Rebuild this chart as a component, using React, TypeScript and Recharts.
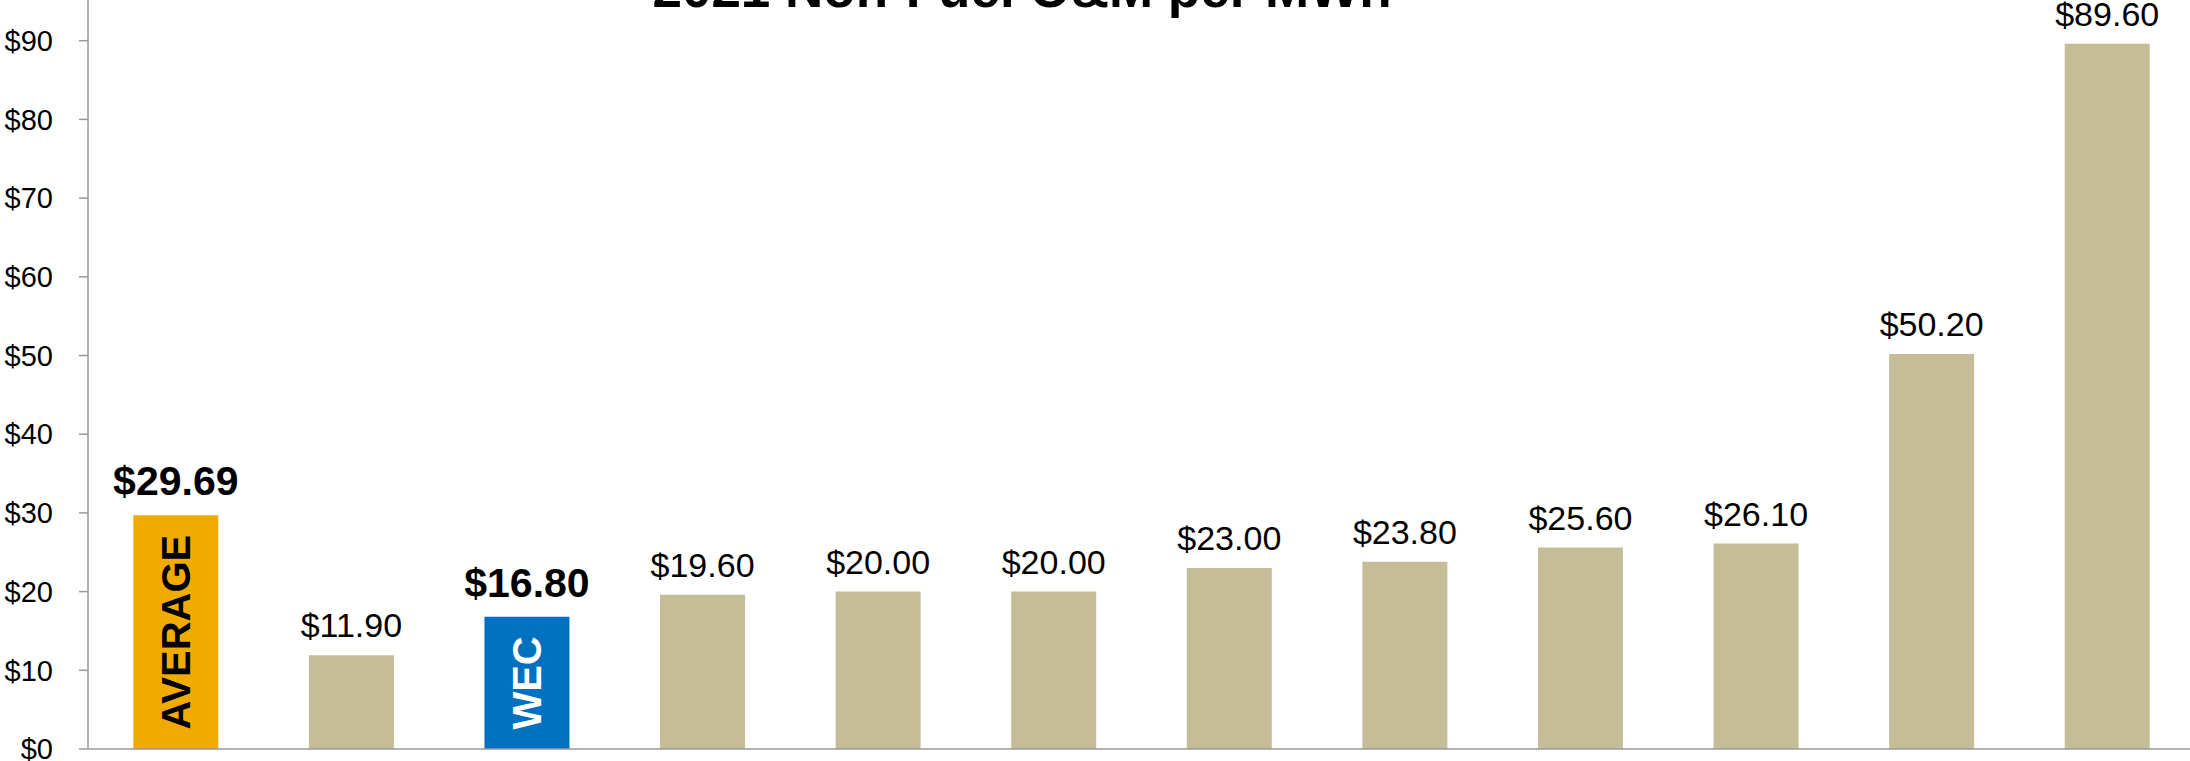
import React from 'react';
import { BarChart, Bar, XAxis, YAxis, Cell, LabelList } from 'recharts';

// ---------------------------------------------------------------------------
// Data
// ---------------------------------------------------------------------------

const categories = [
  'AVERAGE',
  'Peer A',
  'WEC',
  'Peer B',
  'Peer C',
  'Peer D',
  'Peer E',
  'Peer F',
  'Peer G',
  'Peer H',
  'Peer I',
  'Peer J',
];

const costPerMwh = [29.69, 11.9, 16.8, 19.6, 20.0, 20.0, 23.0, 23.8, 25.6, 26.1, 50.2, 89.6];

// 'avg' | 'wec' | 'peer'
const barKinds = ['avg', 'peer', 'wec', 'peer', 'peer', 'peer', 'peer', 'peer', 'peer', 'peer', 'peer', 'peer'];

const insideLabels = ['AVERAGE', '', 'WEC', '', '', '', '', '', '', '', '', ''];

const yTicks = [0, 10, 20, 30, 40, 50, 60, 70, 80, 90];

const title = '2021 Non-Fuel O&M per MWh';

// ---------------------------------------------------------------------------
// Styles
// ---------------------------------------------------------------------------

const FONT = '"Liberation Sans", Arial, Helvetica, sans-serif';
const KIND_COLOR: Record<string, string> = {
  avg: '#F0AB00',
  wec: '#0070C0',
  peer: '#C5BD98',
};
const AXIS_COLOR = '#999999';

const data = categories.map((name, i) => ({
  name,
  value: costPerMwh[i],
  kind: barKinds[i],
  inside: insideLabels[i],
}));

function formatDollar(v: number) {
  return `$${v.toFixed(2)}`;
}

function TopLabel(props: any) {
  const { x, y, width, index, value } = props;
  const kind = data[index]?.kind;
  const bold = kind === 'avg' || kind === 'wec';
  return (
    <text
      x={x + width / 2}
      y={y - (bold ? 20 : 18)}
      textAnchor="middle"
      fontFamily={FONT}
      fontSize={bold ? 41 : 34}
      fontWeight={bold ? 700 : 400}
      fill="#000"
    >
      {formatDollar(Number(value))}
    </text>
  );
}

function InsideLabel(props: any) {
  const { x, y, width, height, index } = props;
  const d = data[index];
  if (!d || !d.inside) return null;
  const cx = x + width / 2;
  const cy = y + height / 2;
  return (
    <text
      x={cx}
      y={cy}
      transform={`rotate(-90, ${cx}, ${cy})`}
      textAnchor="middle"
      dominantBaseline="central"
      fontFamily={FONT}
      fontSize={40}
      fontWeight={700}
      fill={d.kind === 'wec' ? '#fff' : '#000'}
    >
      {d.inside}
    </text>
  );
}

export default function App() {
  return (
    <div
      style={{
        position: 'absolute',
        top: 0,
        left: 0,
        width: 2190,
        height: 761,
        overflow: 'hidden',
        background: '#fff',
      }}
    >
      <div style={{ position: 'absolute', top: -100, left: 0 }}>
        <BarChart
          width={2200}
          height={900}
          data={data}
          margin={{ top: 62, right: 5, bottom: 50, left: 0 }}
          barCategoryGap="25.8%"
        >
          <XAxis
            dataKey="name"
            tick={false}
            tickLine={false}
            height={1}
            axisLine={{ stroke: AXIS_COLOR, strokeWidth: 1.5 }}
          />
          <YAxis
            domain={[0, 100]}
            ticks={yTicks}
            width={88}
            tickSize={9}
            tickMargin={26}
            tickFormatter={(v: number) => `$${v}`}
            tick={{ fontFamily: FONT, fontSize: 29, fill: '#000' }}
            tickLine={{ stroke: AXIS_COLOR, strokeWidth: 1.5 }}
            axisLine={{ stroke: AXIS_COLOR, strokeWidth: 1.5 }}
            allowDataOverflow
          />
          <Bar dataKey="value" isAnimationActive={false}>
            {data.map((d, i) => (
              <Cell key={i} fill={KIND_COLOR[d.kind]} />
            ))}
            <LabelList dataKey="value" content={TopLabel} />
            <LabelList dataKey="inside" content={InsideLabel} />
          </Bar>
        </BarChart>
      </div>
      <svg
        width={2190}
        height={761}
        style={{ position: 'absolute', top: 0, left: 0, pointerEvents: 'none' }}
      >
        <text
          x={1022}
          y={7}
          textAnchor="middle"
          fontFamily={FONT}
          fontSize={53}
          fontWeight={700}
          fill="#000"
        >
          {title}
        </text>
      </svg>
    </div>
  );
}
